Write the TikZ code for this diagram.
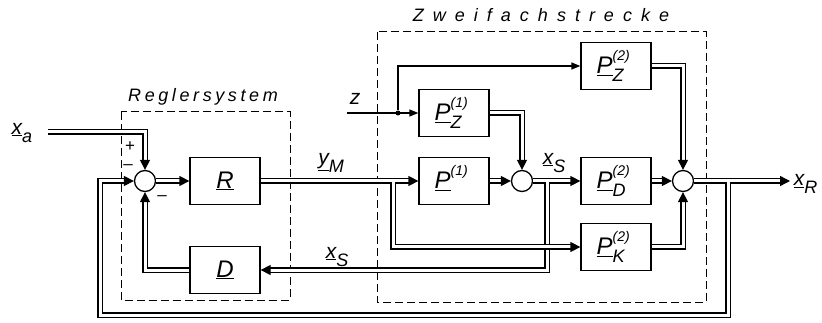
\documentclass[tikz,border=0pt]{standalone}
\usepackage{fontspec}
\setmainfont{Liberation Sans}
\usetikzlibrary{arrows.meta}

% underlined symbol with index and exponent
\newcommand\blk[3]{\underline{#1}\makebox[0pt][l]{\raisebox{0.55em}{\fontsize{14}{14}\selectfont#2}}\makebox[0.95em][l]{\raisebox{-0.32em}{\fontsize{18}{18}\selectfont#3}}}
\newcommand\sig[2]{\underline{#1}\raisebox{-0.4em}{\fontsize{18}{18}\selectfont#2}}

\begin{document}
\begin{tikzpicture}[x=1pt, y=-1pt,
  line width=1.3pt,
  every node/.style={font=\fontsize{21}{24}\selectfont\itshape},
  block/.style={draw, minimum width=70pt, minimum height=47pt, inner sep=0pt,
    font=\fontsize{24}{27}\selectfont\itshape},
  summer/.style={draw, circle, minimum size=21pt, inner sep=0pt},
  sign/.style={inner sep=0pt, font=\fontsize{17}{17}\selectfont},
  vector line/.style={double, double distance=3pt},
  vector arrow/.style={-{Triangle[length=10pt,width=10pt]}},
  scalar arrow/.style={-{Triangle[length=9pt,width=7pt]}},
  frame/.style={dash pattern=on 8pt off 4pt, line width=1pt}
]
  \useasboundingbox (0,0) rectangle (822,323);

  % frames
  \draw[frame] (121,112) rectangle (290,300);
  \draw[frame] (377,32) rectangle (706,302);
  \node[font=\fontsize{18}{21}\selectfont\itshape] (reg) at (203,97) {\addfontfeatures{LetterSpace=20}Reglersystem};
  \node[font=\fontsize{18}{21}\selectfont\itshape] (zwei) at (541,15) {\addfontfeatures{LetterSpace=50}Zweifachstrecke};

  % blocks
  \node[summer] (s1) at (145,181) {};
  \node[block] (R) at (225,181) {\underline{R}};
  \node[block] (D) at (225,270) {\underline{D}};
  \node[block] (P1) at (454,181) {\blk{P}{(1)}{}};
  \node[block] (PZ1) at (454,113) {\blk{P}{(1)}{Z}};
  \node[summer] (s2) at (522,181) {};
  \node[block] (PD) at (616,181) {\blk{P}{(2)}{D}};
  \node[block] (PZ2) at (616,66) {\blk{P}{(2)}{Z}};
  \node[block] (PK) at (616,247) {\blk{P}{(2)}{K}};
  \node[summer] (s3) at (683,181) {};

  % labels
  \node (xa) at (22,133) {\sig{x}{a}};
  \node (ym) at (331,163) {\sig{y}{M}};
  \node (xs1) at (337,257) {\sig{x}{S}};
  \node (xs2) at (554,163) {\sig{x}{S}};
  \node[anchor=west] (xr) at (790,184) {\sig{x}{R}};
  \node (z) at (355,99) {z};
  \node[sign] (plus) at (130,147) {+};
  \node[sign] (minus1) at (128,167) {\textendash};
  \node[sign] (minus2) at (162,198) {\textendash};

  % branch points
  \coordinate (xain) at (48,132);
  \coordinate (ymb) at (393,181);
  \coordinate (xsb) at (547,181);
  \coordinate (xrb) at (728,181);
  \coordinate (xrout) at (790,181);
  \coordinate (fbl) at (100,315);
  \coordinate (zin) at (347,113);
  \node[circle, fill, inner sep=0pt, minimum size=5pt] (zdot) at (398,113) {};

  % controller
  \draw[vector line, vector arrow] (xain) -| (s1.north);
  \draw[vector line, vector arrow] (s1.east) -- (R.west);
  \draw[vector line, vector arrow] (D.west) -| (s1.south);

  % plant
  \draw[vector line, vector arrow] (s2.east) -- (PD.west);
  \draw[vector line, vector arrow] ([yshift=-1.5pt]xsb) |- (D.east);
  \draw[vector line, vector arrow] (R.east) -- (ymb) |- (PK.west);
  \draw[vector line, vector arrow] ([xshift=1.5pt]ymb) -- (P1.west);
  \draw[vector line, vector arrow] (P1.east) -- (s2.west);
  \draw[vector line, vector arrow] (PZ1.east) -| (s2.north);
  \draw[vector line, vector arrow] (PD.east) -- (s3.west);
  \draw[vector line, vector arrow] (PZ2.east) -| (s3.north);
  \draw[vector line, vector arrow] (PK.east) -| (s3.south);

  % output and outer loop
  \draw[vector line, vector arrow] (s3.east) -- (xrout);
  \draw[vector line, vector arrow] ([yshift=-1.5pt]xrb) |- (fbl) |- (s1.west);

  % disturbance
  \draw[scalar arrow] (zin) -- (PZ1.west);
  \draw[scalar arrow] (zdot) |- (PZ2.west);
\end{tikzpicture}
\end{document}
